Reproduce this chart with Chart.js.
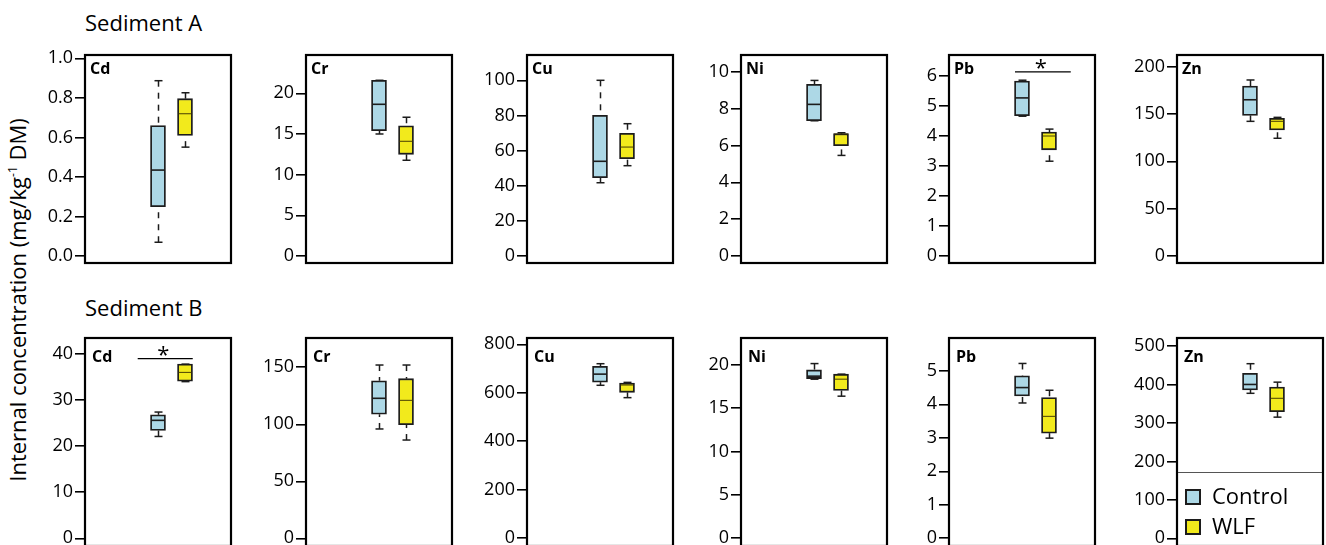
<!DOCTYPE html>
<html>
<head>
<meta charset="utf-8">
<script src="https://cdn.jsdelivr.net/npm/chart.js@4.4.1/dist/chart.umd.min.js"></script>
<style>
  html, body { margin: 0; padding: 0; }
  body {
    width: 1326px; height: 545px; overflow: hidden; position: relative;
    background: #fff; font-family: "Open Sans", sans-serif; color: #000;
  }
  canvas { position: absolute; }
  .sect { position: absolute; font-size: 22px; line-height: 30px; white-space: nowrap; }
  #ytitle {
    position: absolute; left: 17px; top: 300px; font-size: 22px; white-space: nowrap;
    transform: translate(-50%, -50%) rotate(-90deg);
  }
  #ytitle sup { font-size: 12px; vertical-align: 9px; line-height: 0; }
  #legend { position: absolute; left: 1178px; top: 472px; width: 144px; z-index: 2; }
  #legend .rule { height: 1px; background: #555; }
  .item { position: absolute; left: 7px; font-size: 22px; line-height: 30px; white-space: nowrap; }
  .item i {
    display: inline-block; width: 12px; height: 12px; border: 2px solid #1c1c1c;
    margin-right: 11px; vertical-align: -1px;
  }
</style>
</head>
<body>
<div id="ytitle">Internal concentration (mg/kg<sup>-1</sup> DM)</div>
<div class="sect" style="left:85px;top:7px">Sediment A</div>
<div class="sect" style="left:85px;top:292px">Sediment B</div>
<div id="legend">
  <div class="rule"></div>
  <div class="item" style="top:8px"><i style="background:#ADD8E6"></i>Control</div>
  <div class="item" style="top:38px"><i style="background:#F2EA1C"></i>WLF</div>
</div>
<script>
const metals = ["Cd", "Cr", "Cu", "Ni", "Pb", "Zn"];
const groups = ["Control", "WLF"];

// box stats per metal: [min, q1, median, q3, max]
const controlA = [
  [0.07, 0.25, 0.435, 0.66, 0.887],
  [15.0, 15.4, 18.65, 21.6, 21.6],
  [41.7, 44.6, 53.9, 80.1, 100],
  [7.34, 7.34, 8.23, 9.32, 9.53],
  [4.66, 4.68, 5.27, 5.83, 5.86],
  [142.3, 148.6, 165.1, 179.6, 186],
];
const wlfA = [
  [0.551, 0.61, 0.72, 0.796, 0.826],
  [11.77, 12.5, 14.1, 16.0, 17.06],
  [51.4, 55.4, 62.0, 69.8, 75.3],
  [5.46, 5.99, 6.62, 6.64, 6.69],
  [3.16, 3.54, 4.0, 4.13, 4.23],
  [124.4, 133.1, 142.3, 145.4, 146.5],
];
const controlB = [
  [22.1, 23.4, 25.6, 26.8, 27.4],
  [95.9, 108.8, 122.8, 138.2, 152],
  [631, 644, 677, 709, 720],
  [18.35, 18.42, 18.7, 19.42, 20.15],
  [4.04, 4.25, 4.5, 4.85, 5.22],
  [377, 386, 400, 429, 454],
];
const wlfB = [
  [34.0, 34.1, 36.0, 37.8, 37.8],
  [86.2, 99.6, 121, 140, 152],
  [580, 602, 632, 640, 643],
  [16.39, 17.04, 18.35, 18.93, 18.93],
  [2.99, 3.14, 3.64, 4.2, 4.42],
  [315, 329, 364, 393, 406],
];

// y axis limits and tick labels
const rangeA = [[-0.035, 1.017], [-0.86, 24.71], [-3.98, 114.4], [-0.38, 10.91], [-0.233, 6.7], [-7.4, 212.4]];
const rangeB = [[-1.67, 43.47], [-6.75, 175.7], [-31.8, 826], [-0.89, 23.1], [-0.23, 5.98], [-20, 520.8]];
const ticksA = [
  [0, 0.2, 0.4, 0.6, 0.8, 1.0],
  [0, 5, 10, 15, 20],
  [0, 20, 40, 60, 80, 100],
  [0, 2, 4, 6, 8, 10],
  [0, 1, 2, 3, 4, 5, 6],
  [0, 50, 100, 150, 200],
];
const ticksB = [
  [0, 10, 20, 30, 40],
  [0, 50, 100, 150],
  [0, 200, 400, 600, 800],
  [0, 5, 10, 15, 20],
  [0, 1, 2, 3, 4, 5],
  [0, 100, 200, 300, 400, 500],
];

// significance bars: metal -> [from, to, height]
const sigA = { Pb: [0.452, 0.834, 6.14] };
const sigB = { Cd: [0.361, 0.738, 39.0] };

const groupX = [0.5, 0.685];
const colors = ["#ADD8E6", "#F2EA1C"];

const panelLeft = [85, 306, 527, 741, 949, 1177];
const AXIS_W = 70, FRAME_W = 146, FRAME_H = 208, PAD = 14;

const rows = [
  { top: 55, control: controlA, wlf: wlfA, range: rangeA, ticks: ticksA, sig: sigA, labelDy: 19, labelDx: 5 },
  { top: 338, control: controlB, wlf: wlfB, range: rangeB, ticks: ticksB, sig: sigB, labelDy: 24, labelDx: 7 },
];

function line(ctx, x1, y1, x2, y2) {
  ctx.beginPath();
  ctx.moveTo(x1, y1);
  ctx.lineTo(x2, y2);
  ctx.stroke();
}

// whiskers, medians, frame, panel label and significance mark
function decor(label, sig, row) {
  return {
    id: "decor",
    beforeDatasetsDraw(chart) {
      const { ctx, scales: { x, y } } = chart;
      const ds = chart.data.datasets[0];
      ctx.save();
      ctx.strokeStyle = "#1c1c1c";
      ctx.lineWidth = 1.5;
      ds.stats.forEach((s, i) => {
        const px = Math.round(x.getPixelForValue(groupX[i])) + 0.5;
        ctx.setLineDash([6, 6]);
        line(ctx, px, y.getPixelForValue(s[4]), px, y.getPixelForValue(s[3]));
        line(ctx, px, y.getPixelForValue(s[0]), px, y.getPixelForValue(s[1]));
        ctx.setLineDash([]);
        line(ctx, px - 4, y.getPixelForValue(s[4]), px + 4, y.getPixelForValue(s[4]));
        line(ctx, px - 4, y.getPixelForValue(s[0]), px + 4, y.getPixelForValue(s[0]));
      });
      ctx.restore();
    },
    afterDatasetsDraw(chart) {
      const { ctx, scales: { x, y } } = chart;
      const ds = chart.data.datasets[0];
      ctx.save();
      ds.stats.forEach((s, i) => {
        const px = x.getPixelForValue(groupX[i]);
        ctx.strokeStyle = i === 0 ? "#1c1c1c" : "rgba(60,50,0,0.85)";
        ctx.lineWidth = i === 0 ? 1.6 : 1.1;
        line(ctx, px - 7, y.getPixelForValue(s[2]), px + 7, y.getPixelForValue(s[2]));
      });
      ctx.restore();
    },
    afterDraw(chart) {
      const { ctx, chartArea: a, scales: { x, y } } = chart;
      ctx.save();
      ctx.strokeStyle = "#000";
      ctx.lineWidth = 2.2;
      ctx.strokeRect(a.left, a.top, a.right - a.left, a.bottom - a.top);
      ctx.fillStyle = "#000";
      ctx.font = "bold 16px 'Open Sans'";
      ctx.fillText(label, a.left + row.labelDx, a.top + row.labelDy);
      if (sig) {
        const yy = y.getPixelForValue(sig[2]);
        ctx.lineWidth = 1.3;
        line(ctx, x.getPixelForValue(sig[0]), yy, x.getPixelForValue(sig[1]), yy);
        ctx.font = "22px 'Open Sans'";
        ctx.textAlign = "center";
        ctx.fillText("*", (x.getPixelForValue(sig[0]) + x.getPixelForValue(sig[1])) / 2 - 2, yy + 3);
      }
      ctx.restore();
    },
  };
}

rows.forEach((row) => {
  metals.forEach((metal, i) => {
    const canvas = document.createElement("canvas");
    canvas.width = AXIS_W + FRAME_W + 2;
    canvas.height = PAD + FRAME_H + PAD;
    canvas.style.left = panelLeft[i] - AXIS_W + "px";
    canvas.style.top = row.top - PAD + "px";
    document.body.appendChild(canvas);

    const tickVals = row.ticks[i];
    const decimals = tickVals.some((v) => !Number.isInteger(v));

    new Chart(canvas, {
      type: "bar",
      data: {
        datasets: [
          {
            label: metal,
            data: [
              { x: groupX[0], y: [row.control[i][1], row.control[i][3]] },
              { x: groupX[1], y: [row.wlf[i][1], row.wlf[i][3]] },
            ],
            stats: [row.control[i], row.wlf[i]],
            backgroundColor: colors,
            borderColor: "#1c1c1c",
            borderWidth: 1.8,
            borderSkipped: false,
            barThickness: 15,
          },
        ],
      },
      options: {
        responsive: false,
        animation: false,
        events: [],
        layout: { padding: { top: PAD, bottom: PAD, left: 0, right: 2 } },
        plugins: {
          legend: { display: false },
          tooltip: { enabled: false },
          title: { display: false },
        },
        scales: {
          x: { type: "linear", min: 0, max: 1, offset: false, display: false },
          y: {
            min: row.range[i][0],
            max: row.range[i][1],
            afterBuildTicks: (s) => {
              s.ticks = tickVals.map((v) => ({ value: v }));
            },
            afterFit: (s) => {
              s.width = AXIS_W;
            },
            border: { display: false },
            grid: {
              drawOnChartArea: false,
              drawTicks: true,
              tickLength: 10,
              color: "#000",
              lineWidth: 1.6,
            },
            ticks: {
              color: "#000",
              padding: 2,
              font: { family: "Open Sans", size: 18 },
              callback: (v) => (decimals ? v.toFixed(1) : String(v)),
            },
          },
        },
      },
      plugins: [decor(metal, row.sig[metal], row)],
    });
  });
});
</script>
</body>
</html>
